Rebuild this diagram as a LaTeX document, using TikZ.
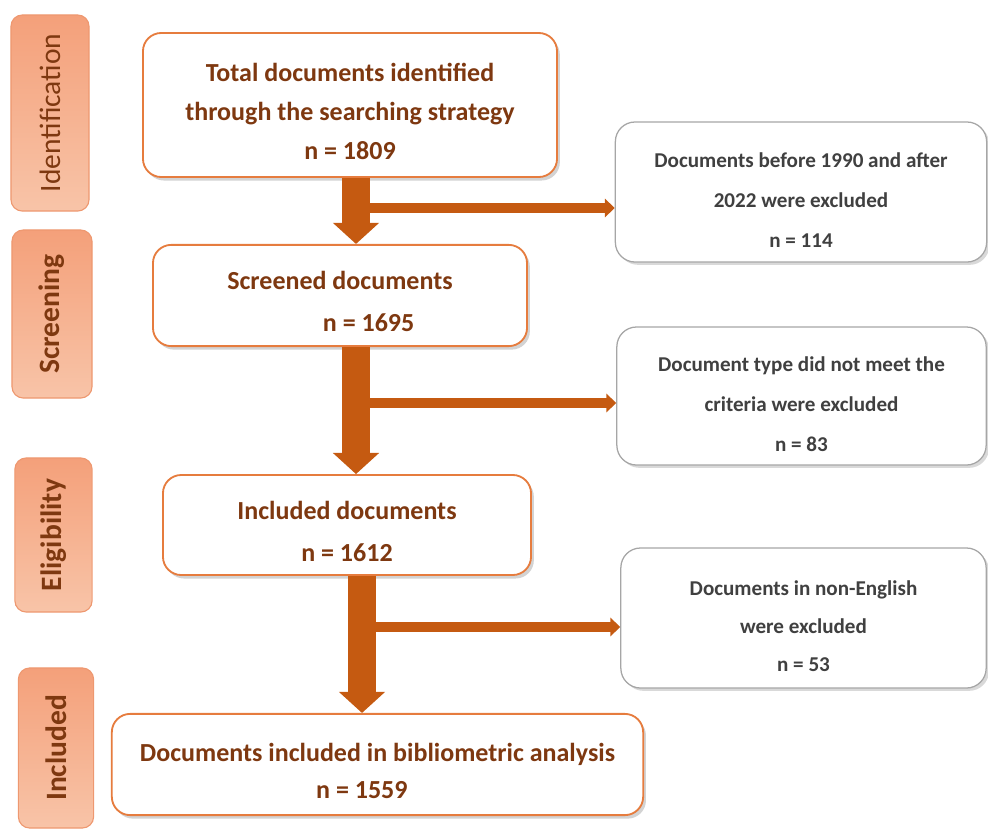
\documentclass[tikz,border=0pt]{standalone}
\usepackage{fontspec}
\setmainfont{Carlito}
\usetikzlibrary{arrows.meta,shadows,positioning}
\definecolor{boxline}{HTML}{E67C3E}
\definecolor{arrowcol}{HTML}{C55A11}
\definecolor{textbrown}{HTML}{7E3810}
\definecolor{sidetop}{HTML}{F4A07A}
\definecolor{sidebot}{HTML}{F8C4A8}
\definecolor{sideline}{HTML}{EE9870}
\definecolor{greyline}{HTML}{A6A6A6}
\definecolor{greytext}{HTML}{404040}
\newcommand{\topstrut}{\rule{0pt}{22pt}}
\tikzset{
  mainbox/.style={draw=boxline, line width=1.3pt, fill=white, rounded corners=13pt,
    text=textbrown, font=\bfseries\fontsize{18.5}{28}\selectfont, align=center,
    drop shadow={shadow xshift=2pt, shadow yshift=-2.5pt, opacity=0.35}},
  exclbox/.style={draw=greyline, line width=0.9pt, fill=white, rounded corners=14pt,
    text=greytext, font=\bfseries\fontsize{15}{28.5}\selectfont, align=center,
    drop shadow={shadow xshift=2pt, shadow yshift=-2pt, opacity=0.3}},
  stagebox/.style={draw=sideline, line width=0.8pt, top color=sidetop, bottom color=sidebot,
    rounded corners=8pt, text=textbrown, font=\bfseries\fontsize{21}{24}\selectfont, rotate=90},
  downarrow/.style={draw=arrowcol, line width=20pt, -{Triangle[width=32pt,length=15pt]}},
  sidearrow/.style={draw=arrowcol, line width=7pt, -{Triangle[width=13pt,length=7pt]}},
}
\begin{document}
\begin{tikzpicture}[x=0.025cm, y=-0.025cm]
\useasboundingbox (0,0) rectangle (988,830);

% stage labels on the left
\node[stagebox, minimum width=4.9cm, minimum height=1.95cm] (ident) at (50,113) {\mdseries Identification};
\node[stagebox, minimum width=4.2cm, minimum height=2.0cm] (screen) at (52,314) {Screening};
\node[stagebox, minimum width=3.85cm, minimum height=1.93cm] (elig) at (53.5,535) {Eligibility};
\node[stagebox, minimum width=4.0cm, minimum height=1.88cm] (incl) at (56,748) {Included};

% main flow
\node[mainbox, minimum width=10.35cm, minimum height=3.6cm] (total) at (350,105)
  {\topstrut Total documents identified\\ through the searching strategy\\ n = 1809};
\node[mainbox, minimum width=9.35cm, minimum height=2.53cm, font=\bfseries\fontsize{18.5}{30}\selectfont] (screened) at (340,295.5)
  {\topstrut Screened documents\\ \hspace*{2.2em}n = 1695};
\node[mainbox, minimum width=9.2cm, minimum height=2.5cm, font=\bfseries\fontsize{18.5}{30}\selectfont] (included) at (347,525)
  {\topstrut Included documents\\ n = 1612};
\node[mainbox, minimum width=13.28cm, minimum height=2.53cm, font=\bfseries\fontsize{18.5}{26}\selectfont] (biblio) at (377.5,764.5)
  {\topstrut Documents included in bibliometric analysis\\ n = 1559\hspace*{1.2em}};

% excluded records
\node[exclbox, minimum width=9.28cm, minimum height=3.5cm] (excl1) at (801,192)
  {\topstrut Documents before 1990 and after\\ 2022 were excluded\\ n = 114};
\node[exclbox, minimum width=9.23cm, minimum height=3.45cm] (excl2) at (801.5,396)
  {\topstrut Document type did not meet the\\ criteria were excluded\\ n = 83};
\node[exclbox, minimum width=9.13cm, minimum height=3.5cm, font=\bfseries\fontsize{15}{27}\selectfont] (excl3) at (803.5,618)
  {\topstrut Documents in non-English\\ were excluded\\ n = 53};

% arrows
\coordinate (s1) at (356,0);
\coordinate (s2) at (356,0);
\coordinate (s3) at (362,0);
\draw[downarrow] (total.south -| s1) -- (screened.north -| s1);
\draw[downarrow] (screened.south -| s2) -- (included.north -| s2);
\draw[downarrow] (included.south -| s3) -- (biblio.north -| s3);
\coordinate (b1) at (356,208);
\coordinate (b2) at (356,403);
\coordinate (b3) at (362,627);
\draw[sidearrow] (b1) -- (b1 -| excl1.west);
\draw[sidearrow] (b2) -- (b2 -| excl2.west);
\draw[sidearrow] (b3) -- (b3 -| excl3.west);
\end{tikzpicture}
\end{document}
